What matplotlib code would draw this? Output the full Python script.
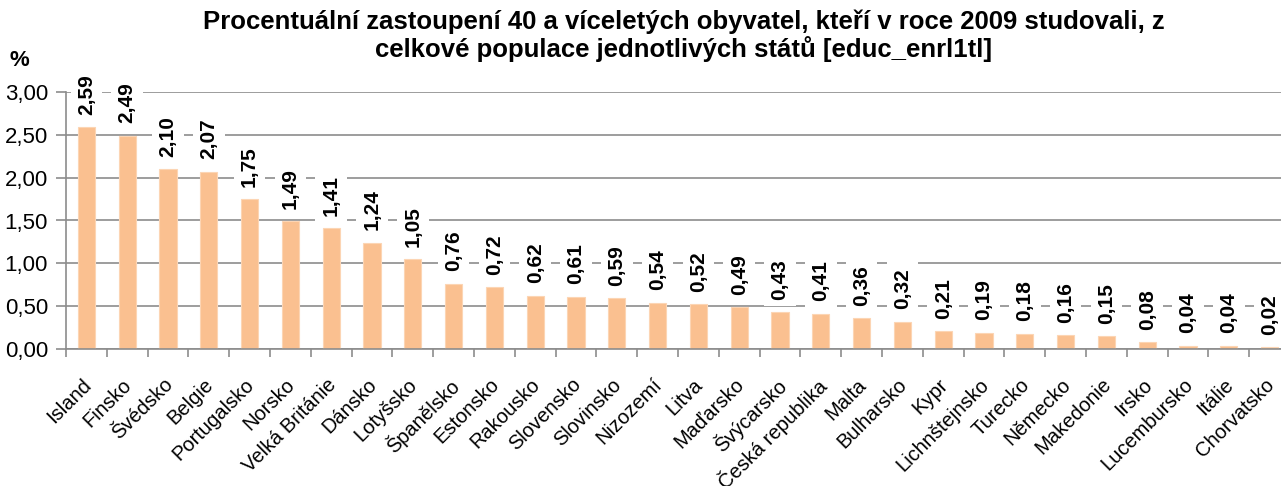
import matplotlib.pyplot as plt
import numpy as np
from matplotlib.ticker import FuncFormatter

COUNTRIES = [
    "Island", "Finsko", "Švédsko", "Belgie", "Portugalsko", "Norsko",
    "Velká Británie", "Dánsko", "Lotyšsko", "Španělsko", "Estonsko",
    "Rakousko", "Slovensko", "Slovinsko", "Nizozemí", "Litva", "Maďarsko",
    "Švýcarsko", "Česká republika", "Malta", "Bulharsko", "Kypr",
    "Lichnštejnsko", "Turecko", "Německo", "Makedonie", "Irsko",
    "Lucembursko", "Itálie", "Chorvatsko",
]
VALUES = [
    2.59, 2.49, 2.10, 2.07, 1.75, 1.49, 1.41, 1.24, 1.05, 0.76, 0.72,
    0.62, 0.61, 0.59, 0.54, 0.52, 0.49, 0.43, 0.41, 0.36, 0.32, 0.21,
    0.19, 0.18, 0.16, 0.15, 0.08, 0.04, 0.04, 0.02,
]
TITLE = ("Procentuální zastoupení 40 a víceletých obyvatel, kteří v roce 2009 studovali, z\n"
         "celkové populace jednotlivých států [educ_enrl1tl]")

BAR = "#FAC090"
GRID = "#8C8C8C"


def comma(v, _pos=None):
    return f"{v:.2f}".replace(".", ",")


def main():
    plt.rcParams.update({"font.family": ["Liberation Sans", "DejaVu Sans"]})

    fig = plt.figure(figsize=(12.81, 4.86), dpi=100)
    # the plot area runs a little past the right edge, as in the source
    ax = fig.add_axes([66 / 1281, 1 - 349 / 486, (1290 - 66) / 1281, (349 - 92) / 486])

    x = np.arange(len(VALUES))
    ax.bar(x, VALUES, width=0.42, color=BAR, edgecolor="#FCD5B4", lw=0.8, zorder=2)

    ax.set_xlim(-0.5, len(VALUES) - 0.5)
    ax.set_ylim(0, 3.0)
    ax.set_yticks(np.arange(0, 3.01, 0.5))
    ax.yaxis.set_major_formatter(FuncFormatter(comma))
    ax.grid(axis="y", color=GRID, lw=1.2, zorder=0)
    ax.set_axisbelow(True)

    for s in ("top", "right"):
        ax.spines[s].set_visible(False)
    for s in ("left", "bottom"):
        ax.spines[s].set_color(GRID)
        ax.spines[s].set_linewidth(1.2)

    ax.set_xticks(np.arange(-0.5, len(VALUES), 1.0))
    ax.set_xticklabels([])
    ax.tick_params(axis="x", length=6, color=GRID, width=1.2, direction="out")
    ax.tick_params(axis="y", length=7, color=GRID, width=1.2, labelsize=16, pad=6)

    # category names, slanted, top-right corner just under each bar
    for xi, name in zip(x, COUNTRIES):
        ax.annotate(name, (xi, 0), xycoords=("data", "axes fraction"),
                    xytext=(-5, -26), textcoords="offset pixels",
                    rotation=45, ha="right", va="top", rotation_mode="anchor",
                    fontsize=14.5, annotation_clip=False)

    for xi, v in zip(x, VALUES):
        ax.annotate(comma(v), (xi, v), xytext=(0, 9), textcoords="offset points",
                    rotation=90, ha="center", va="bottom", fontsize=15,
                    fontweight="bold",
                    bbox=dict(boxstyle="square,pad=0.3", fc="white", ec="none"),
                    zorder=3, annotation_clip=False)

    fig.text(10 / 1281, 1 - 60 / 486, "%", fontsize=16, fontweight="bold",
             ha="left", va="center")
    fig.text(684 / 1281, 1 - 36 / 486, TITLE, fontsize=18.5, fontweight="bold",
             ha="center", va="center", linespacing=1.1)

    fig.savefig("out.png", dpi=100)
    plt.close(fig)


if __name__ == "__main__":
    main()
